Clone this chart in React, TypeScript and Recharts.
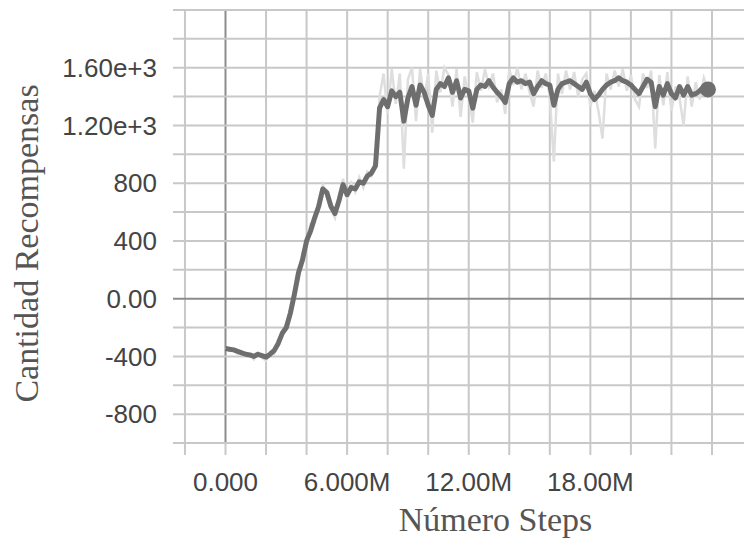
import React from 'react';
import {
  LineChart,
  Line,
  XAxis,
  YAxis,
  ReferenceLine,
  Label,
} from 'recharts';

// Pasos de entrenamiento, en millones
const pasosM = [
  0, 0.2, 0.4, 0.6, 0.8, 1, 1.2, 1.4, 1.6, 1.8,
  2, 2.2, 2.4, 2.6, 2.8, 3, 3.2, 3.4, 3.6, 3.8,
  4, 4.2, 4.4, 4.6, 4.8, 5, 5.2, 5.4, 5.6, 5.8,
  6, 6.2, 6.4, 6.6, 6.8, 7, 7.2, 7.4, 7.6, 7.8,
  8, 8.2, 8.4, 8.6, 8.8, 9, 9.2, 9.4, 9.6, 9.8,
  10, 10.2, 10.4, 10.6, 10.8, 11, 11.2, 11.4, 11.6, 11.8,
  12, 12.2, 12.4, 12.6, 12.8, 13, 13.2, 13.4, 13.6, 13.8,
  14, 14.2, 14.4, 14.6, 14.8, 15, 15.2, 15.4, 15.6, 15.8,
  16, 16.2, 16.4, 16.6, 16.8, 17, 17.2, 17.4, 17.6, 17.8,
  18, 18.2, 18.4, 18.6, 18.8, 19, 19.2, 19.4, 19.6, 19.8,
  20, 20.2, 20.4, 20.6, 20.8, 21, 21.2, 21.4, 21.6, 21.8,
  22, 22.2, 22.4, 22.6, 22.8, 23, 23.2, 23.4, 23.6, 23.8,
];

// Recompensa suavizada (línea oscura)
const recompensaSuavizada = [
  -345, -350, -355, -365, -375, -385, -390, -400, -385, -395,
  -405, -385, -360, -310, -240, -200, -100, 30, 180, 270,
  400, 470, 560, 640, 760, 735, 640, 590, 680, 790,
  720, 770, 760, 810, 800, 850, 870, 920, 1320, 1380,
  1330, 1440, 1400, 1430, 1230, 1390, 1470, 1340, 1480, 1430,
  1340, 1270, 1450, 1490, 1470, 1530, 1430, 1510, 1390, 1450,
  1440, 1320, 1450, 1480, 1470, 1510, 1465, 1430, 1400, 1360,
  1490, 1530, 1500, 1510, 1490, 1500, 1420, 1470, 1510, 1490,
  1480, 1340, 1450, 1490, 1500, 1510, 1490, 1470, 1450, 1500,
  1420, 1380, 1410, 1450, 1480, 1500, 1510, 1530, 1510, 1500,
  1480, 1450, 1420, 1470, 1520, 1500, 1330, 1470, 1410, 1490,
  1420, 1390, 1470, 1410, 1470, 1410, 1420, 1440, 1470, 1450,
];

// Recompensa sin suavizar (línea clara de fondo)
const recompensaCruda = [
  -340, -360, -350, -380, -370, -400, -385, -420, -375, -410,
  -430, -370, -380, -290, -260, -170, -130, 80, 130, 320,
  360, 520, 530, 690, 790, 700, 620, 560, 720, 830,
  690, 800, 740, 840, 770, 880, 850, 960, 1400, 1560,
  1280, 1590, 1350, 1560, 900, 1520, 1600, 1230, 1590, 1380,
  1560, 1150, 1580, 1430, 1600, 1550, 1330, 1590, 1260, 1540,
  1400, 1220, 1570, 1440, 1590, 1470, 1560, 1360, 1450, 1280,
  1590, 1480, 1600, 1450, 1560, 1430, 1330, 1580, 1460, 1560,
  1400, 950, 1560, 1420, 1580, 1450, 1570, 1400, 1520, 1560,
  1330, 1440, 1300, 1110, 1560, 1450, 1580, 1470, 1590, 1440,
  1550, 1380, 1330, 1560, 1460, 1580, 1040, 1550, 1340, 1570,
  1300, 1470, 1390, 1200, 1540, 1330, 1500, 1380, 1530, 1450,
];

const ticksX = [-2, 0, 2, 4, 6, 8, 10, 12, 14, 16, 18, 20, 22, 24];
const etiquetasX = [0, 6, 12, 18];
const ticksY = [
  -1000, -800, -600, -400, -200, 0, 200, 400, 600, 800,
  1000, 1200, 1400, 1600, 1800, 2000,
];
const etiquetasY = [-800, -400, 0, 400, 800, 1200, 1600];

const datos = pasosM.map((paso, i) => ({
  paso,
  suavizada: recompensaSuavizada[i],
  cruda: recompensaCruda[i],
}));

const fuenteTicks = 'Arial, "Liberation Sans", sans-serif';
const fuenteTitulos = '"Times New Roman", "Liberation Serif", serif';
const colorGrilla = '#c8c8c8';
const colorEje = '#8c8c8c';

const formatoX = (v: number) => {
  if (!etiquetasX.includes(v)) return '';
  return v === 0 ? '0.000' : `${v.toPrecision(4)}M`;
};

const formatoY = (v: number) => {
  if (!etiquetasY.includes(v)) return '';
  if (v === 0) return '0.00';
  return Math.abs(v) >= 1000 ? v.toExponential(2) : String(v);
};

const ultimo = datos.length - 1;

export default function App() {
  return (
    <div style={{ width: 744, height: 538, background: '#fff' }}>
      <style>{'body{margin:0}'}</style>
      <LineChart
        width={744}
        height={538}
        data={datos}
        margin={{ top: 10, right: 0, bottom: 0, left: 0 }}
      >
        <XAxis
          dataKey="paso"
          type="number"
          domain={[-2.59, 25.58]}
          ticks={ticksX}
          tickFormatter={formatoX}
          interval={0}
          height={95}
          axisLine={false}
          tickLine={{ stroke: colorGrilla, strokeWidth: 2 }}
          tickSize={12}
          tickMargin={18}
          tick={{ fill: '#444', fontSize: 26, fontFamily: fuenteTicks }}
          allowDataOverflow
        >
          <Label
            content={({ viewBox }: any) => (
              <text
                x={viewBox.x + viewBox.width / 2 + 37}
                y={viewBox.y + 88}
                textAnchor="middle"
                fill="#555"
                fontSize={34}
                fontFamily={fuenteTitulos}
              >
                Número Steps
              </text>
            )}
          />
        </XAxis>
        <YAxis
          type="number"
          domain={[-1000, 2000]}
          ticks={ticksY}
          tickFormatter={formatoY}
          interval={0}
          width={173}
          axisLine={false}
          tickLine={false}
          tickSize={0}
          tickMargin={16}
          tick={{ fill: '#444', fontSize: 26, fontFamily: fuenteTicks }}
        >
          <Label
            content={({ viewBox }: any) => {
              const cx = 38;
              const cy = viewBox.y + viewBox.height / 2 + 17;
              return (
                <text
                  x={cx}
                  y={cy}
                  transform={`rotate(-90, ${cx}, ${cy})`}
                  textAnchor="middle"
                  fill="#555"
                  fontSize={34}
                  fontFamily={fuenteTitulos}
                >
                  Cantidad Recompensas
                </text>
              );
            }}
          />
        </YAxis>
        {/* grilla: una línea por tick, sin borde del área */}
        {ticksX.map((t) => (
          <ReferenceLine
            key={`gx${t}`}
            x={t}
            stroke={t === 0 ? colorEje : colorGrilla}
            strokeWidth={2}
          />
        ))}
        {ticksY.map((t) => (
          <ReferenceLine
            key={`gy${t}`}
            y={t}
            stroke={t === 0 ? colorEje : colorGrilla}
            strokeWidth={2}
          />
        ))}
        <Line
          dataKey="cruda"
          type="linear"
          stroke="#dedede"
          strokeWidth={2.5}
          dot={false}
          activeDot={false}
          isAnimationActive={false}
        />
        <Line
          dataKey="suavizada"
          type="linear"
          stroke="#6e6e6e"
          strokeWidth={5}
          strokeLinejoin="round"
          dot={(p: any) =>
            p.index === ultimo ? (
              <circle key="fin" cx={p.cx} cy={p.cy} r={8} fill="#6e6e6e" />
            ) : (
              <g key={`d${p.index}`} />
            )
          }
          activeDot={false}
          isAnimationActive={false}
        />
      </LineChart>
    </div>
  );
}
